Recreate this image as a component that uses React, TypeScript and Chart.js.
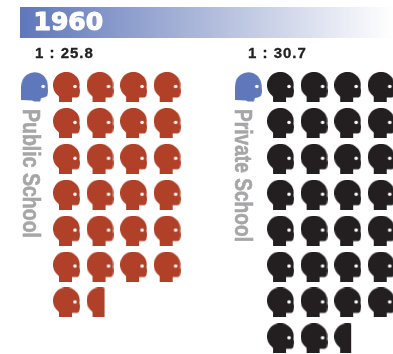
import React, { useEffect, useRef } from "react";
import { Chart, registerables } from "chart.js";

Chart.register(...registerables);

const yearLabel = "1960";
const publicRatio = "1 : 25.8";
const privateRatio = "1 : 30.7";
const publicLabel = "Public School";
const privateLabel = "Private School";
// students drawn per row of each pictogram block
const publicRows = [4, 4, 4, 4, 4, 4, 1.8];
const privateRows = [4, 4, 4, 4, 4, 4, 4, 2.7];
const panelColumn = [0, 6.38];
const teacherColumn = [-0.95, 5.42];
const teacherRow = [0];

const RED = "#b04028";
const BLACK = "#231f20";
const BLUE = "#5f77bb";
const W = 27;
const H = 30;

function headPath(c: CanvasRenderingContext2D, teacher: boolean) {
  c.beginPath();
  if (teacher) {
    c.moveTo(0, 28);
    c.lineTo(0, 15);
    c.arc(13.5, 13.5, 13.2, Math.PI * 1.05, Math.PI * 2.03);
    c.lineTo(27, 19);
    c.lineTo(26.7, 21.5);
    c.lineTo(26, 24);
    c.lineTo(23, 25.5);
    c.lineTo(20, 26);
    c.lineTo(19, 29.5);
    c.lineTo(13, 29.5);
    c.lineTo(11, 28.5);
    c.closePath();
  } else {
    c.moveTo(6, 30);
    c.lineTo(6, 25);
    c.arc(13.3, 13.2, 13.3, 2.2, Math.PI * 2.05);
    c.lineTo(27, 19);
    c.lineTo(26.7, 21.5);
    c.lineTo(26.2, 24);
    c.lineTo(24.5, 25.5);
    c.lineTo(19, 25.5);
    c.lineTo(19, 30);
    c.closePath();
  }
}

function sprite(color: string, fraction: number, teacher = false) {
  const cv = document.createElement("canvas");
  cv.width = W;
  cv.height = H;
  const c = cv.getContext("2d")!;
  // partial heads are cut at about two thirds of the figure
  const clip = fraction >= 1 ? W : W * (0.38 + fraction * 0.36);
  c.beginPath();
  c.rect(0, 0, clip, H);
  c.clip();
  headPath(c, teacher);
  c.fillStyle = color;
  c.fill();
  c.fillStyle = "#ffffff";
  c.beginPath();
  c.arc(22, 14.5, 1.8, 0, Math.PI * 2);
  c.fill();
  return cv;
}

function rowsToPoints(rows: number[], offset: number) {
  const pts: { x: number; y: number; f: number }[] = [];
  rows.forEach((n, r) => {
    for (let i = 0; i < Math.ceil(n); i++) {
      pts.push({ x: offset + i, y: r, f: Math.min(1, n - i) });
    }
  });
  return pts;
}

const textPlugin = {
  id: "labels",
  beforeDatasetsDraw(chart: any) {
    const c: CanvasRenderingContext2D = chart.ctx;
    c.save();
    const g = c.createLinearGradient(20, 0, 393, 0);
    g.addColorStop(0, "#5f77bb");
    g.addColorStop(0.5, "#afbadb");
    g.addColorStop(1, "#ffffff");
    c.fillStyle = g;
    c.fillRect(20, 7, 373, 31);

    c.fillStyle = "#ffffff";
    c.strokeStyle = "#ffffff";
    c.lineWidth = 1.2;
    c.lineJoin = "round";
    c.textBaseline = "alphabetic";
    c.font = "bold 25px 'DejaVu Sans'";
    c.strokeText(yearLabel, 33.5, 30);
    c.fillText(yearLabel, 33.5, 30);

    c.fillStyle = "#222222";
    c.strokeStyle = "#222222";
    c.lineWidth = 0.3;
    c.font = "bold 15px 'Liberation Sans'";
    (c as any).letterSpacing = "1px";
    c.fillText(publicRatio, 35, 58);
    c.strokeText(publicRatio, 35, 58);
    c.fillText(privateRatio, 248, 58);
    c.strokeText(privateRatio, 248, 58);
    (c as any).letterSpacing = "0px";

    c.fillStyle = "#a6a6a8";
    c.strokeStyle = "#a6a6a8";
    c.lineWidth = 0.6;
    c.font = "bold 23px 'Liberation Sans'";
    const side = (text: string, x: number, y: number, len: number) => {
      c.save();
      c.translate(x, y);
      c.rotate(Math.PI / 2);
      c.fillText(text, 0, 0, len);
      c.strokeText(text, 0, 0, len);
      c.restore();
    };
    side(publicLabel, 23, 109, 129);
    side(privateLabel, 235, 109, 133);
    c.restore();
  },
};

export default function App() {
  const ref = useRef<HTMLCanvasElement>(null);
  useEffect(() => {
    const pub = rowsToPoints(publicRows, panelColumn[0]);
    const pri = rowsToPoints(privateRows, panelColumn[1]);
    const teachers = teacherColumn.map((x) => ({ x, y: teacherRow[0], f: 1 }));
    const chart = new Chart(ref.current!, {
      type: "scatter",
      data: {
        datasets: [
          { label: "Teacher", data: teachers as any, pointStyle: sprite(BLUE, 1, true) as any, pointRadius: 14 },
          {
            label: "Public School",
            data: pub as any,
            pointStyle: pub.map((p) => sprite(RED, p.f)) as any,
            pointRadius: 14,
          },
          {
            label: "Private School",
            data: pri as any,
            pointStyle: pri.map((p) => sprite(BLACK, p.f)) as any,
            pointRadius: 14,
          },
        ],
      },
      options: {
        animation: false,
        responsive: false,
        layout: { padding: 0, autoPadding: false },
        plugins: { legend: { display: false }, tooltip: { enabled: false } },
        clip: false as any,
        scales: {
          x: { type: "linear", display: false, min: -1.9821, max: 9.7317 },
          y: { type: "linear", display: false, min: -2.423, max: 7.437, reverse: true },
        },
      },
      plugins: [textPlugin],
    });
    return () => chart.destroy();
  }, []);
  return (
    <div style={{ position: "absolute", left: 0, top: 0, width: 393, height: 354, background: "#fff" }}>
      <canvas ref={ref} width={393} height={354} style={{ display: "block" }} />
    </div>
  );
}
